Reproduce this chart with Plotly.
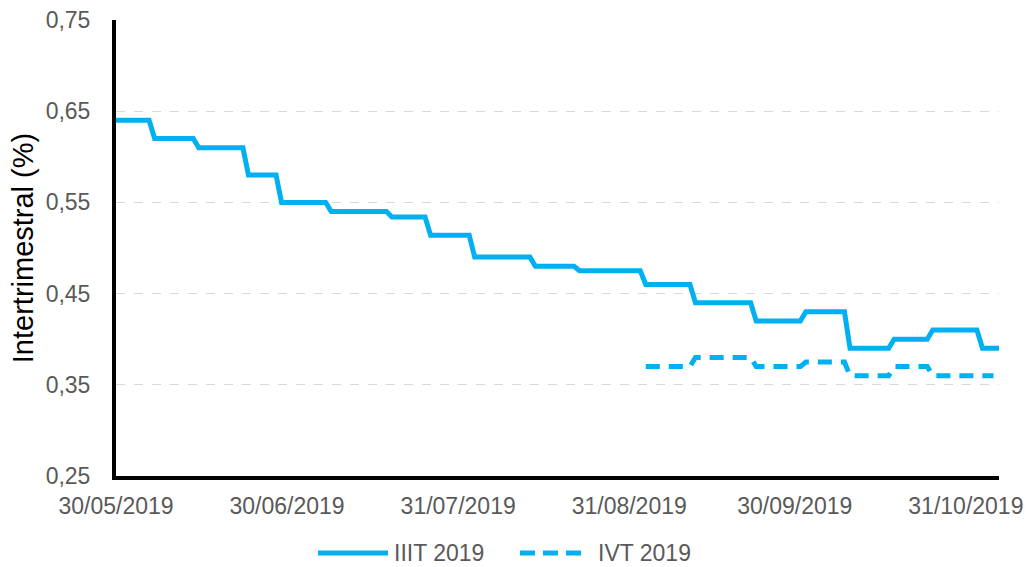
import plotly.graph_objects as go

# Step breakpoints (start and end date of each level)
iiit_dates = [
    "2019-05-30", "2019-06-05", "2019-06-06", "2019-06-13", "2019-06-14", "2019-06-22",
    "2019-06-23", "2019-06-28", "2019-06-29", "2019-07-07", "2019-07-08", "2019-07-18",
    "2019-07-19", "2019-07-25", "2019-07-26", "2019-08-02", "2019-08-03", "2019-08-13",
    "2019-08-14", "2019-08-21", "2019-08-22", "2019-09-02", "2019-09-03", "2019-09-11",
    "2019-09-12", "2019-09-22", "2019-09-23", "2019-10-01", "2019-10-02", "2019-10-09",
    "2019-10-10", "2019-10-17", "2019-10-18", "2019-10-24", "2019-10-25", "2019-11-02",
    "2019-11-03", "2019-11-06",
]
iiit_values = [
    0.64, 0.64, 0.62, 0.62, 0.61, 0.61,
    0.58, 0.58, 0.55, 0.55, 0.54, 0.54,
    0.534, 0.534, 0.514, 0.514, 0.49, 0.49,
    0.48, 0.48, 0.475, 0.475, 0.46, 0.46,
    0.44, 0.44, 0.42, 0.42, 0.43, 0.43,
    0.39, 0.39, 0.40, 0.40, 0.41, 0.41,
    0.39, 0.39,
]

ivt_dates = [
    "2019-09-03", "2019-09-11", "2019-09-12", "2019-09-22", "2019-09-23", "2019-10-01",
    "2019-10-02", "2019-10-09", "2019-10-10", "2019-10-17", "2019-10-18", "2019-10-24",
    "2019-10-25", "2019-11-05",
]
ivt_values = [
    0.37, 0.37, 0.38, 0.38, 0.37, 0.37,
    0.375, 0.375, 0.36, 0.36, 0.37, 0.37,
    0.36, 0.36,
]

series_names = ["IIIT 2019", "IVT 2019"]
tick_dates = ["2019-05-30", "2019-06-30", "2019-07-31", "2019-08-31", "2019-09-30", "2019-10-31"]
tick_labels = ["30/05/2019", "30/06/2019", "31/07/2019", "31/08/2019", "30/09/2019", "31/10/2019"]
y_ticks = [0.25, 0.35, 0.45, 0.55, 0.65, 0.75]

BLUE = "#00B0F0"
GRAY = "#595959"
FONT = "Liberation Sans, Arial, sans-serif"
DASH = "14px,9px"

W, H = 1027, 567
PLOT_L, PLOT_R, PLOT_T, PLOT_B = 116, 999, 20, 476  # screen pixels
ML, MT = PLOT_L, PLOT_T
MR, MB = W - PLOT_R, H - PLOT_B
PW, PH = PLOT_R - PLOT_L, PLOT_B - PLOT_T


def px_to_paper_x(px):
    return (px - PLOT_L) / PW


def px_to_paper_y(py):
    return (PLOT_B - py) / PH


fig = go.Figure()
fig.add_trace(go.Scatter(
    x=iiit_dates, y=iiit_values, mode="lines", name=series_names[0],
    line=dict(color=BLUE, width=5), showlegend=False,
))
fig.add_trace(go.Scatter(
    x=ivt_dates, y=ivt_values, mode="lines", name=series_names[1],
    line=dict(color=BLUE, width=5, dash=DASH), showlegend=False,
))

# Legend drawn manually (long line samples, as in the reference)
leg_y = px_to_paper_y(553)
shapes = [
    dict(type="line", xref="paper", yref="paper",
         x0=px_to_paper_x(318), x1=px_to_paper_x(388), y0=leg_y, y1=leg_y,
         line=dict(color=BLUE, width=5)),
    dict(type="line", xref="paper", yref="paper",
         x0=px_to_paper_x(520), x1=px_to_paper_x(586), y0=leg_y, y1=leg_y,
         line=dict(color=BLUE, width=5, dash="15px,8px")),
]
annotations = [
    dict(text=series_names[0], xref="paper", yref="paper",
         x=px_to_paper_x(392), y=leg_y, xanchor="left", yanchor="middle",
         showarrow=False, font=dict(family=FONT, size=23, color=GRAY)),
    dict(text=series_names[1], xref="paper", yref="paper",
         x=px_to_paper_x(596), y=leg_y, xanchor="left", yanchor="middle",
         showarrow=False, font=dict(family=FONT, size=23, color=GRAY)),
]

fig.update_layout(
    width=W, height=H,
    margin=dict(l=ML, r=MR, t=MT, b=MB, pad=0),
    paper_bgcolor="white", plot_bgcolor="white",
    separators=",.",
    font=dict(family=FONT, size=23, color=GRAY),
    showlegend=False,
    shapes=shapes,
    annotations=annotations,
    xaxis=dict(
        type="date",
        range=["2019-05-30", "2019-11-06"],
        tickvals=tick_dates, ticktext=tick_labels,
        showgrid=False, zeroline=False,
        showline=True, linecolor="black", linewidth=4,
        ticks="", ticklabelstandoff=6,
        ticklabeloverflow="allow",
        tickfont=dict(family=FONT, size=23, color=GRAY),
        automargin=False,
    ),
    yaxis=dict(
        range=[0.25, 0.75],
        tickvals=y_ticks, tickformat=".2f",
        showgrid=True, gridcolor="#D9D9D9", griddash="dash", gridwidth=1.3,
        zeroline=False,
        showline=True, linecolor="black", linewidth=4,
        ticks="", ticklabelstandoff=17,
        ticklabeloverflow="allow",
        tickfont=dict(family=FONT, size=23, color=GRAY),
        automargin=False,
        title=dict(text="Intertrimestral (%)", standoff=4,
                   font=dict(family=FONT, size=29, color="black")),
    ),
)

# Remove the default 8px page margin so the figure fills the window exactly
fig.write_html(
    "out.html",
    config={"displayModeBar": False},
    post_script="document.body.style.margin='0';",
)
